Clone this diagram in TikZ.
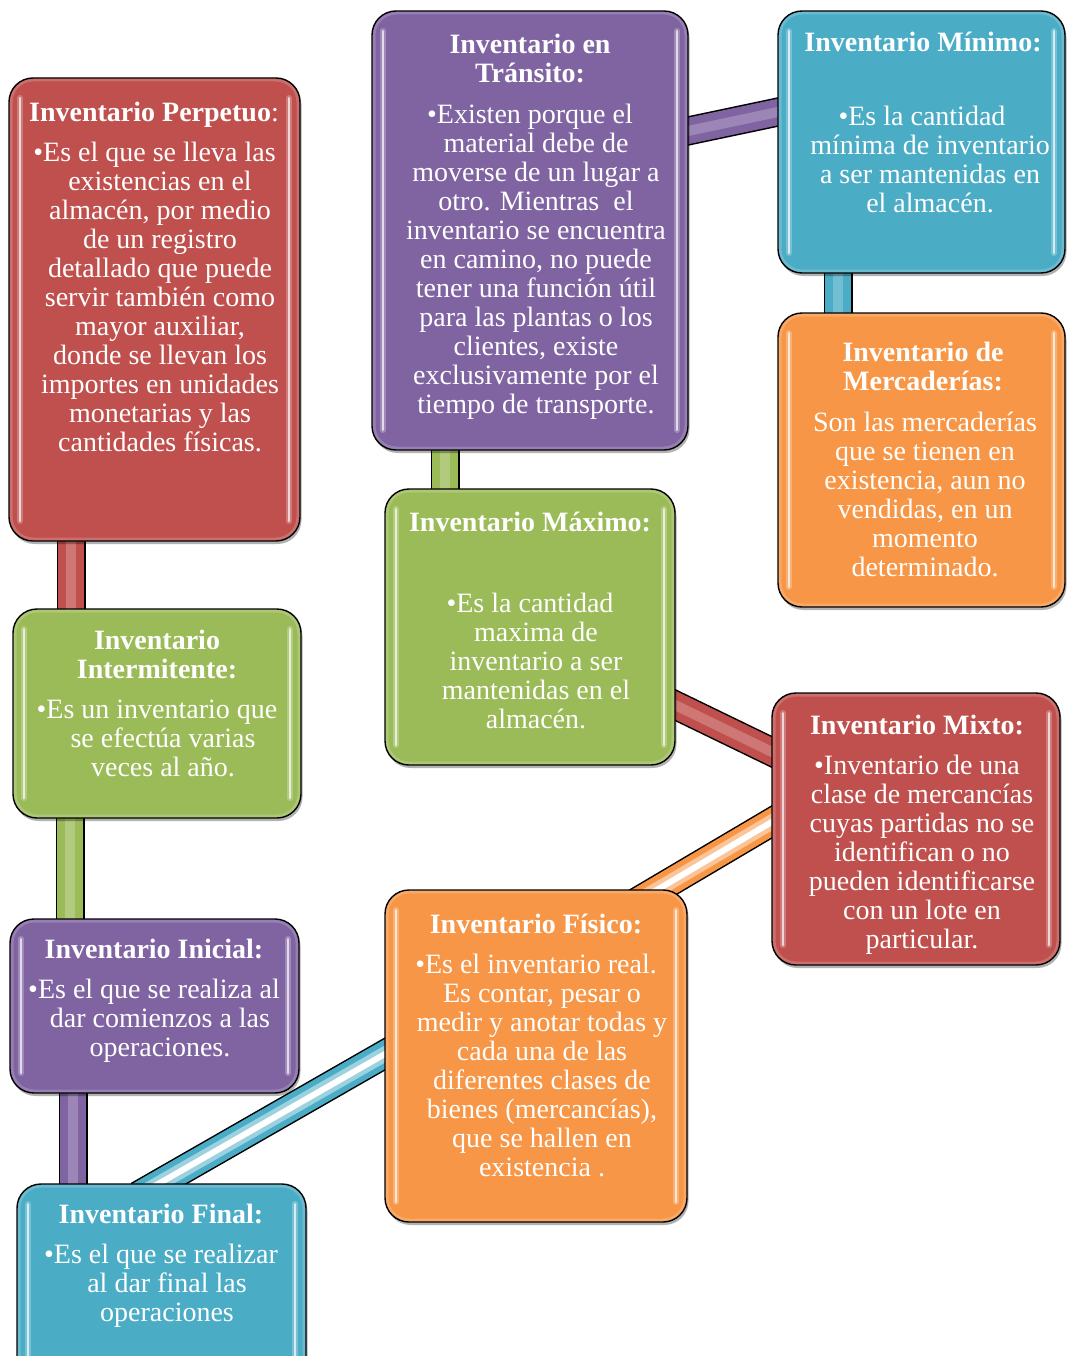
\documentclass[tikz,border=0pt]{standalone}
\usepackage{fontspec}
\setmainfont{Liberation Serif}
\usetikzlibrary{shadows,backgrounds}
\definecolor{cred}{HTML}{C0504D}
\definecolor{cpur}{HTML}{8064A2}
\definecolor{cblu}{HTML}{4BACC6}
\definecolor{cora}{HTML}{F79646}
\definecolor{cgre}{HTML}{9BBB59}
\newcommand\bandA[3]{%
  \draw[line width=29pt, black] (#2) -- (#3);
  \draw[line width=26pt, #1] (#2) -- (#3);
  \draw[line width=10pt, #1!78!white] (#2) -- (#3);}
\newcommand\bandB[3]{%
  \draw[line width=29pt, black] (#2) -- (#3);
  \draw[line width=26pt, #1] (#2) -- (#3);
  \draw[line width=15pt, #1!55!white] (#2) -- (#3);
  \draw[line width=6pt, white] (#2) -- (#3);}
\tikzset{
  box/.style={rounded corners=24pt, draw=black, line width=1.4pt, fill=#1,
    anchor=north west, inner sep=0pt, outer sep=0pt,
    drop shadow={shadow xshift=1.5pt, shadow yshift=-3pt, opacity=.3, fill=black},
    path picture={
      \draw[white, opacity=.18, line width=7pt, rounded corners=24pt]
        (path picture bounding box.north west) rectangle (path picture bounding box.south east);
      \draw[white, opacity=.25, line width=6pt, line cap=round]
        ([xshift=11pt,yshift=-20pt]path picture bounding box.north west) --
        ([xshift=11pt,yshift=20pt]path picture bounding box.south west);
      \draw[white, opacity=.7, line width=2pt, line cap=round]
        ([xshift=11pt,yshift=-20pt]path picture bounding box.north west) --
        ([xshift=11pt,yshift=20pt]path picture bounding box.south west);
      \draw[white, opacity=.25, line width=6pt, line cap=round]
        ([xshift=-11pt,yshift=-20pt]path picture bounding box.north east) --
        ([xshift=-11pt,yshift=20pt]path picture bounding box.south east);
      \draw[white, opacity=.7, line width=2pt, line cap=round]
        ([xshift=-11pt,yshift=-20pt]path picture bounding box.north east) --
        ([xshift=-11pt,yshift=20pt]path picture bounding box.south east);
    }},
  txt/.style={text=white, font=\fontsize{28}{29}\selectfont, align=center,
    inner sep=0pt, outer sep=0pt, anchor=north},
  ttl/.style={txt, font=\fontsize{28}{29}\selectfont\bfseries},
}
\begin{document}
\begin{tikzpicture}[x=1pt, y=-1pt]
\useasboundingbox (0,0) rectangle (1066,1356);

% boxes
\node[box=cred, minimum width=291pt, minimum height=463pt] (perp) at (9,78) {};
\node[box=cpur, minimum width=316pt, minimum height=439pt] (tran) at (372,11) {};
\node[box=cblu, minimum width=287pt, minimum height=262pt] (mini) at (778,11) {};
\node[box=cora, minimum width=287pt, minimum height=294pt] (merc) at (778,313) {};
\node[box=cgre, minimum width=290pt, minimum height=276pt] (maxi) at (385,489) {};
\node[box=cgre, minimum width=288pt, minimum height=209pt] (inte) at (13,609) {};
\node[box=cred, minimum width=288pt, minimum height=272pt] (mixt) at (772,693) {};
\node[box=cpur, minimum width=289pt, minimum height=174pt] (inic) at (10,919) {};
\node[box=cora, minimum width=302pt, minimum height=332pt] (fisi) at (385,890) {};
\node[box=cblu, minimum width=289pt, minimum height=200pt] (fina) at (17,1184) {};

% connectors (behind the boxes)
\coordinate (k1a) at (71,530);   \coordinate (k1b) at (71,620);
\coordinate (k2a) at (70,810);   \coordinate (k2b) at (70,930);
\coordinate (k3a) at (73,1085);  \coordinate (k3b) at (73,1195);
\coordinate (k4a) at (445,440);  \coordinate (k4b) at (445,500);
\coordinate (k5a) at (668,135.2); \coordinate (k5b) at (798,107.8);
\coordinate (k6a) at (838,263);  \coordinate (k6b) at (838,323);
\coordinate (k7a) at (655,695.3); \coordinate (k7b) at (792,761.7);
\coordinate (k8a) at (790,811.2); \coordinate (k8b) at (630,905.8);
\coordinate (k9a) at (405,1042.5); \coordinate (k9b) at (138,1195.5);
\begin{scope}[on background layer]
  \bandA{cred}{k1a}{k1b}
  \bandA{cgre}{k2a}{k2b}
  \bandA{cpur}{k3a}{k3b}
  \bandA{cgre}{k4a}{k4b}
  \bandA{cpur}{k5a}{k5b}
  \bandA{cblu}{k6a}{k6b}
  \bandA{cred}{k7a}{k7b}
  \bandB{cora}{k8a}{k8b}
  \bandB{cblu}{k9a}{k9b}
\end{scope}

% texts
\node[ttl] (t1) at (154,101) {\strut Inventario Perpetuo\textmd{:}};
\node[txt] (b1) at (160,141) {\strut •Es el que se lleva las\hspace*{11pt}\\
 existencias en el\\ almacén, por medio\\ de un registro\\ detallado que puede\\
 servir también como\\ mayor auxiliar,\\ donde se llevan los\\ importes en unidades\\
 monetarias y las\\ cantidades físicas.};

\node[ttl] (t2) at (530,33) {\strut Inventario en\\ Tránsito:};
\node[txt] (b2) at (536,103) {\strut •Existen porque el\hspace*{12pt}\\ material debe de\\
 moverse de un lugar a\\ otro. Mientras\ \ el\\ inventario se encuentra\\ en camino, no puede\\
 tener una función útil\\ para las plantas o los\\ clientes, existe\\
 exclusivamente por el\\ tiempo de transporte.};

\node[ttl] (t3) at (923,31) {\strut Inventario Mínimo:};
\node[txt] (b3) at (930,105) {\strut •Es la cantidad\hspace*{16pt}\\ mínima de inventario\\
 a ser mantenidas en\\ el almacén.};

\node[ttl] (t4) at (923,341) {\strut Inventario de\\ Mercaderías:};
\node[txt] (b4) at (925,411) {\strut Son las mercaderías\\ que se tienen en\\ existencia, aun no\\
 vendidas, en un\\ momento\\ determinado.};

\node[ttl] (t5) at (530,511) {\strut Inventario Máximo:};
\node[txt] (b5) at (536,592) {\strut •Es la cantidad\hspace*{12pt}\\ maxima de\\ inventario a ser\\
 mantenidas en el\\ almacén.};

\node[ttl] (t6) at (157,629) {\strut Inventario\\ Intermitente:};
\node[txt] (b6) at (163,698) {\strut •Es un inventario que\hspace*{12pt}\\ se efectúa varias\\ veces al año.};

\node[ttl] (t7) at (917,714) {\strut Inventario Mixto:};
\node[txt] (b7) at (922,754) {\strut •Inventario de una\hspace*{10pt}\\ clase de mercancías\\
 cuyas partidas no se\\ identifican o no\\ pueden identificarse\\ con un lote en\\ particular.};

\node[ttl] (t8) at (154,938) {\strut Inventario Inicial:};
\node[txt] (b8) at (160,978) {\strut •Es el que se realiza al\hspace*{12pt}\\ dar comienzos a las\\ operaciones.};

\node[ttl] (t9) at (536,913) {\strut Inventario Físico:};
\node[txt] (b9) at (542,953) {\strut •Es el inventario real.\hspace*{12pt}\\ Es contar, pesar o\\
 medir y anotar todas y\\ cada una de las\\ diferentes clases de\\ bienes (mercancías),\\
 que se hallen en\\ existencia .};

\node[ttl] (t10) at (161,1203) {\strut Inventario Final:};
\node[txt] (b10) at (167,1243) {\strut •Es el que se realizar\hspace*{12pt}\\ al dar final las\\ operaciones};
\end{tikzpicture}
\end{document}
